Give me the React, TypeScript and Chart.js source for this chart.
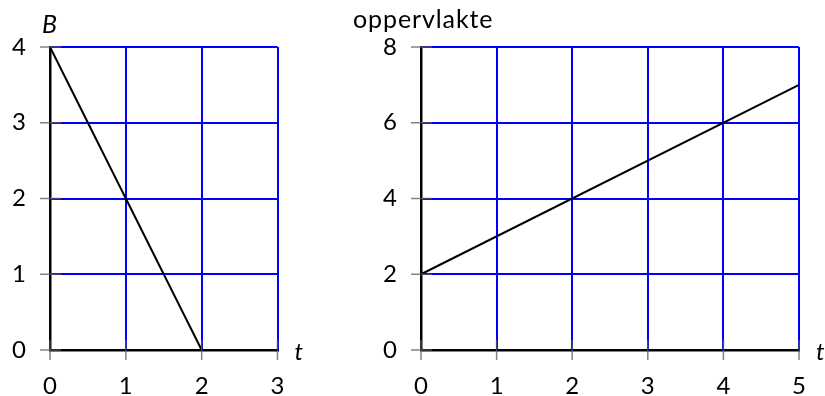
import React, { useEffect, useRef } from "react";
import { Chart, registerables } from "chart.js";

Chart.register(...registerables);

// Left chart: B versus t
const leftT = [0, 2];
const leftB = [4, 0];
const leftXTicks = [0, 1, 2, 3];
const leftYTicks = [0, 1, 2, 3, 4];

// Right chart: oppervlakte versus t
const rightT = [0, 5];
const rightA = [2, 7];
const rightXTicks = [0, 1, 2, 3, 4, 5];
const rightYTicks = [0, 2, 4, 6, 8];

const FONT = "Lato, 'DejaVu Sans', sans-serif";

type Cfg = {
  xs: number[];
  ys: number[];
  xTicks: number[];
  yTicks: number[];
  yLabel: string;
  yLabelItalic: boolean;
  yAxisWidth: number;
  rightPad: number;
};

function makeChart(canvas: HTMLCanvasElement, cfg: Cfg) {
  const annot = {
    id: "annot",
    afterDraw(chart: any) {
      const ctx = chart.ctx;
      const a = chart.chartArea;
      const xs = chart.scales.x;
      const ys = chart.scales.y;
      ctx.save();
      // tick marks crossing the axes
      ctx.strokeStyle = "rgba(90,90,90,0.75)";
      ctx.lineWidth = 1.5;
      cfg.xTicks.forEach((v) => {
        const px = xs.getPixelForValue(v);
        ctx.beginPath();
        ctx.moveTo(px, a.bottom - 10);
        ctx.lineTo(px, a.bottom + 10);
        ctx.stroke();
      });
      cfg.yTicks.forEach((v) => {
        const py = ys.getPixelForValue(v);
        ctx.beginPath();
        ctx.moveTo(a.left - 10, py);
        ctx.lineTo(a.left + 11, py);
        ctx.stroke();
      });
      ctx.fillStyle = "#000";
      ctx.textBaseline = "alphabetic";
      ctx.textAlign = "left";
      // t label
      ctx.font = `italic 24px ${FONT}`;
      ctx.fillText("t", a.right + 17, a.bottom + 10);
      // y label
      if (cfg.yLabelItalic) {
        ctx.font = `italic 25px ${FONT}`;
        ctx.fillText(cfg.yLabel, a.left - 8, a.top - 14);
      } else {
        ctx.font = `25px ${FONT}`;
        (ctx as any).letterSpacing = "0.9px";
        ctx.fillText(cfg.yLabel, 13, a.top - 19);
        (ctx as any).letterSpacing = "0px";
      }
      ctx.restore();
    },
  };

  return new Chart(canvas, {
    type: "line",
    data: {
      datasets: [
        {
          data: cfg.xs.map((x, i) => ({ x, y: cfg.ys[i] })),
          borderColor: "#000",
          borderWidth: 2,
          pointRadius: 0,
          tension: 0,
          clip: false as any,
        },
      ],
    },
    options: {
      animation: false,
      responsive: false,
      maintainAspectRatio: false,
      layout: { padding: { top: 47, right: cfg.rightPad, left: 0, bottom: 0 } },
      plugins: { legend: { display: false }, tooltip: { enabled: false } },
      scales: {
        x: {
          type: "linear",
          min: cfg.xTicks[0],
          max: cfg.xTicks[cfg.xTicks.length - 1],
          afterBuildTicks: (s: any) => {
            s.ticks = cfg.xTicks.map((v) => ({ value: v }));
          },
          afterFit: (s: any) => {
            s.height = 46;
            s.paddingLeft = 0;
            s.paddingRight = 0;
          },
          grid: { color: "#0000ff", lineWidth: 2, drawTicks: false },
          border: { color: "#000", width: 2.5 },
          ticks: {
            color: "#000",
            padding: 22,
            font: { family: FONT, size: 24 },
            maxRotation: 0,
          },
        },
        y: {
          type: "linear",
          min: cfg.yTicks[0],
          max: cfg.yTicks[cfg.yTicks.length - 1],
          afterBuildTicks: (s: any) => {
            s.ticks = cfg.yTicks.map((v) => ({ value: v }));
          },
          afterFit: (s: any) => {
            s.width = cfg.yAxisWidth;
            s.paddingTop = 0;
            s.paddingBottom = 0;
          },
          grid: { color: "#0000ff", lineWidth: 2, drawTicks: false },
          border: { color: "#000", width: 2.5 },
          ticks: {
            color: "#000",
            padding: 24,
            font: { family: FONT, size: 24 },
          },
        },
      },
    },
    plugins: [annot],
  } as any);
}

function Panel({ cfg, left, width }: { cfg: Cfg; left: number; width: number }) {
  const ref = useRef<HTMLCanvasElement>(null);
  useEffect(() => {
    if (!ref.current) return;
    const c = makeChart(ref.current, cfg);
    return () => c.destroy();
  }, []);
  return (
    <canvas
      ref={ref}
      width={width}
      height={396}
      style={{ position: "absolute", left, top: 0, width, height: 396 }}
    />
  );
}

export default function App() {
  return (
    <div
      style={{
        position: "fixed",
        left: 0,
        top: 0,
        width: 825,
        height: 396,
        background: "#fff",
      }}
    >
      <Panel
        left={0}
        width={330}
        cfg={{
          xs: leftT,
          ys: leftB,
          xTicks: leftXTicks,
          yTicks: leftYTicks,
          yLabel: "B",
          yLabelItalic: true,
          yAxisWidth: 50,
          rightPad: 52.5,
        }}
      />
      <Panel
        left={340}
        width={485}
        cfg={{
          xs: rightT,
          ys: rightA,
          xTicks: rightXTicks,
          yTicks: rightYTicks,
          yLabel: "oppervlakte",
          yLabelItalic: false,
          yAxisWidth: 81,
          rightPad: 26,
        }}
      />
    </div>
  );
}
